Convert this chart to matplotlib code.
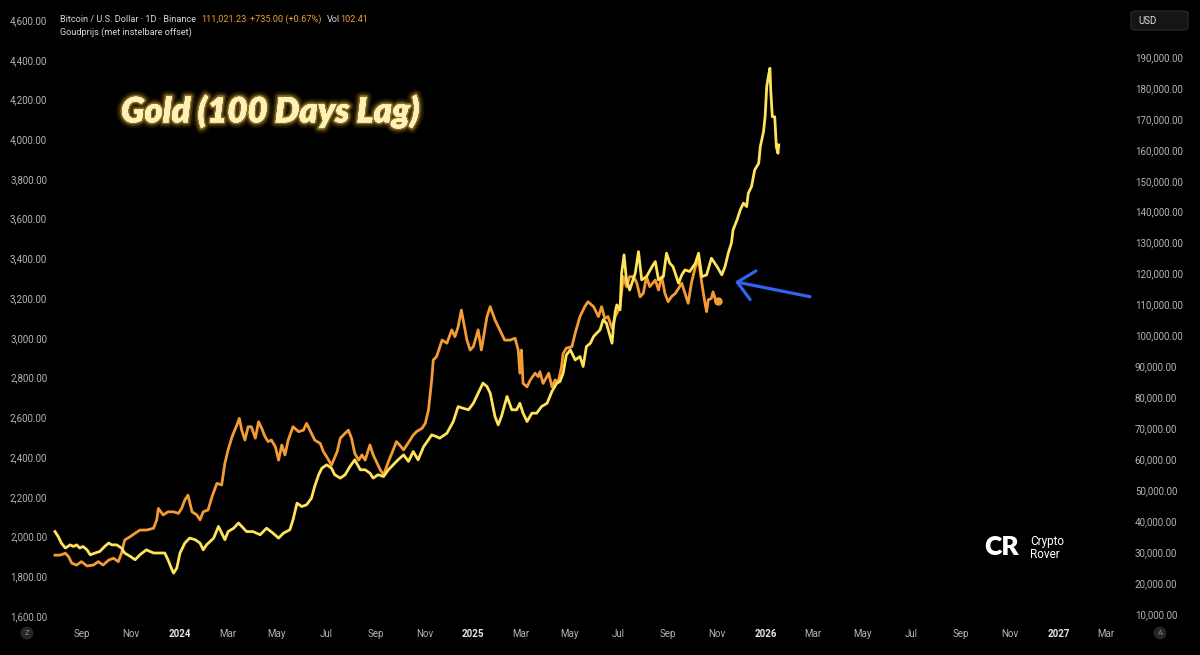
import pandas as pd
import matplotlib
matplotlib.use("Agg")
import matplotlib.pyplot as plt
import matplotlib.patheffects as pe
from matplotlib.patches import FancyBboxPatch
from matplotlib.ticker import FuncFormatter

# dates are stored as days counted from 2024-01-01
BASE = pd.Timestamp("2024-01-01")

# Bitcoin / USD (right scale)
btc_day = [-156, -150, -143, -139, -135, -129, -123, -116, -108, -102,
           -96, -89, -83, -77, -73, -69, -62, -56, -50, -42,
           -33, -29, -27, -21, -15, -8, -2, 2, 6, 10,
           15, 21, 25, 29, 35, 40, 46, 52, 56, 60,
           65, 71, 74, 77, 81, 85, 89, 94, 98, 102,
           106, 110, 114, 119, 123, 127, 131, 135, 141, 148,
           154, 158, 164, 168, 175, 179, 183, 189, 196, 200,
           206, 210, 214, 218, 223, 227, 231, 237, 241, 245,
           250, 254, 260, 266, 270, 274, 279, 283, 287, 291,
           295, 302, 306, 310, 314, 316, 320, 327, 333, 339,
           343, 347, 351, 358, 362, 366, 372, 376, 383, 387,
           393, 399, 405, 412, 418, 422, 424, 426, 428, 433,
           437, 443, 447, 449, 453, 460, 464, 468, 472, 476,
           478, 482, 489, 493, 499, 505, 509, 516, 522, 526,
           530, 534, 539, 543, 549, 553, 557, 561, 566, 570,
           574, 578, 582, 586, 593, 597, 601, 605, 609, 613,
           618, 622, 626, 630, 634, 638, 643, 647, 651, 655,
           657, 659, 663, 665, 667, 669, 671]
btc_price = [29000, 29000, 29600, 28500, 26400, 25800, 26900, 25500, 25800, 26900,
             25800, 27400, 28000, 26900, 29600, 33900, 35000, 36100, 37100, 37100,
             37700, 40400, 44100, 42000, 43000, 43000, 42500, 44100, 46800, 48400,
             43000, 42000, 40400, 43000, 43600, 47900, 52200, 51700, 58700, 63000,
             67300, 71100, 73200, 69400, 66200, 70500, 70500, 66800, 72100, 70000,
             67300, 65700, 66200, 64000, 59700, 64600, 61400, 66200, 70500, 68900,
             69400, 71600, 68400, 66200, 65100, 62400, 60800, 58100, 62400, 66800,
             68400, 69400, 66800, 61900, 59700, 61400, 59700, 64600, 61400, 59200,
             56500, 54900, 59200, 63000, 65700, 64600, 63000, 64600, 66200, 67800,
             68900, 70000, 71600, 75900, 85600, 92100, 93100, 98500, 97500, 101800,
             99600, 102800, 108200, 98500, 95300, 96400, 101800, 95300, 106100, 109300,
             105000, 101800, 98500, 98500, 99100, 95300, 87800, 95300, 84500, 83400,
             85600, 87800, 86700, 88300, 84500, 87800, 83400, 85600, 85100, 89900,
             94200, 95900, 96400, 100700, 106100, 109300, 110900, 109300, 106100, 109300,
             105500, 106100, 102300, 106100, 109300, 119000, 115800, 119000, 119000, 116900,
             112500, 113600, 119000, 115800, 117900, 114700, 119000, 113600, 110900, 112500,
             113600, 115200, 116900, 113600, 110400, 116900, 122200, 124400, 116900, 110400,
             107700, 111500, 112000, 114100, 112500, 110400, 111021]

# Gold price shifted 100 days forward (left scale)
gold_day = [-156, -152, -148, -143, -137, -133, -129, -125, -121, -116,
            -112, -106, -100, -94, -89, -85, -79, -73, -69, -62,
            -56, -50, -42, -33, -25, -19, -15, -10, -8, -4,
            0, 6, 12, 19, 25, 29, 33, 42, 48, 52,
            56, 60, 67, 73, 77, 83, 91, 100, 108, 116,
            123, 129, 137, 141, 146, 152, 158, 164, 168, 173,
            177, 183, 189, 193, 200, 206, 212, 218, 225, 231,
            237, 241, 247, 254, 260, 266, 272, 279, 285, 291,
            297, 304, 310, 314, 320, 324, 333, 341, 347, 353,
            360, 366, 372, 378, 383, 387, 393, 397, 401, 408,
            414, 420, 424, 428, 433, 439, 445, 451, 458, 464,
            470, 474, 478, 482, 487, 493, 499, 503, 507, 512,
            516, 520, 524, 528, 532, 539, 541, 543, 545, 549,
            551, 554, 557, 561, 568, 572, 576, 582, 589, 593,
            597, 603, 607, 611, 615, 622, 626, 630, 636, 643,
            647, 651, 657, 663, 670, 676, 680, 684, 688, 690,
            695, 699, 703, 707, 709, 713, 717, 722, 724, 728,
            730, 732, 734, 736, 737, 739, 742, 744, 746, 747]
gold_price = [2025, 2000, 1967, 1942, 1958, 1950, 1958, 1942, 1950, 1933,
              1908, 1917, 1925, 1950, 1967, 1958, 1958, 1942, 1917, 1900,
              1883, 1908, 1933, 1917, 1917, 1917, 1883, 1833, 1816, 1841,
              1917, 1967, 1992, 1984, 1967, 1933, 1958, 1992, 2051, 2017,
              1984, 2025, 2042, 2068, 2051, 2025, 2025, 2009, 2042, 2017,
              1992, 2017, 2034, 2084, 2168, 2151, 2160, 2193, 2252, 2311,
              2344, 2361, 2344, 2311, 2294, 2311, 2352, 2386, 2336, 2336,
              2319, 2294, 2311, 2302, 2336, 2361, 2386, 2411, 2378, 2428,
              2386, 2453, 2487, 2512, 2503, 2495, 2520, 2579, 2654, 2646,
              2638, 2671, 2722, 2772, 2755, 2722, 2604, 2562, 2604, 2705,
              2638, 2638, 2671, 2621, 2579, 2621, 2621, 2654, 2671, 2730,
              2772, 2780, 2822, 2914, 2940, 2889, 2906, 2856, 2956, 2973,
              3007, 3024, 3040, 3091, 3074, 2973, 3065, 3132, 3166, 3141,
              3326, 3418, 3292, 3241, 3326, 3434, 3292, 3308, 3359, 3384,
              3292, 3308, 3426, 3376, 3359, 3275, 3317, 3342, 3334, 3376,
              3426, 3308, 3317, 3401, 3359, 3317, 3359, 3426, 3478, 3543,
              3594, 3644, 3678, 3661, 3728, 3761, 3845, 3879, 3962, 4038,
              4113, 4264, 4315, 4357, 4248, 4113, 4113, 3962, 3929, 3971]

gold_ticks = list(range(1600, 4601, 200))
btc_ticks = list(range(10000, 190001, 10000))
month_ticks = pd.date_range("2023-09-01", "2027-03-01", freq="2MS")

ORANGE = "#f39c36"
YELLOW = "#ffe45a"
GREY = "#b4b4b4"
LIGHT = "#d8d8d8"
W, H = 1200.0, 655.0

plt.rcParams["font.family"] = ["Roboto", "DejaVu Sans"]


def fx(px):
    return px / W


def fy(py):
    return 1 - py / H


fig = plt.figure(figsize=(12, 6.55), dpi=100, facecolor="black")
ax = fig.add_axes([fx(52), 30 / H, (1125 - 52) / W, 625 / H])
ax2 = ax.twinx()
ax.set_zorder(ax2.get_zorder() + 1)
ax.patch.set_visible(False)
ax2.set_facecolor("black")

btc_dates = BASE + pd.to_timedelta(btc_day, unit="D")
gold_dates = BASE + pd.to_timedelta(gold_day, unit="D")

ax2.plot(btc_dates, btc_price, color=ORANGE, lw=2.0, solid_joinstyle="round")
ax2.plot(btc_dates[-1:], btc_price[-1:], "o", color=ORANGE, ms=5)
ax.plot(gold_dates, gold_price, color=YELLOW, lw=2.0, solid_joinstyle="round")

ax.set_xlim(BASE - pd.Timedelta(days=159.7), BASE + pd.Timedelta(days=1179))
ax.set_ylim(1554.7, 4700.6)
ax2.set_ylim(6422, 208422)

for a in (ax, ax2):
    for s in a.spines.values():
        s.set_visible(False)

money = FuncFormatter(lambda v, p: "{:,.2f}".format(v))
ax.set_yticks(gold_ticks)
ax.yaxis.set_major_formatter(money)
ax.tick_params(axis="y", length=0, pad=3.5, labelsize=7, labelcolor=GREY)
ax2.set_yticks(btc_ticks)
ax2.yaxis.set_major_formatter(money)
ax2.tick_params(axis="y", length=0, pad=7, labelsize=7, labelcolor=GREY)

ax.set_xticks(month_ticks)
ax.set_xticklabels([str(d.year) if d.month == 1 else d.strftime("%b")
                    for d in month_ticks])
ax.tick_params(axis="x", length=0, pad=3, labelsize=7, labelcolor=GREY)
for lab, d in zip(ax.get_xticklabels(), month_ticks):
    if d.month == 1:
        lab.set_fontweight("bold")
        lab.set_color("#e6e6e6")

# header legend, pieces placed one after the other
renderer = fig.canvas.get_renderer()
pieces = [("Bitcoin / U.S. Dollar · 1D · Binance", LIGHT, 5),
          ("111,021.23", ORANGE, 4), ("+735.00 (+0.67%)", ORANGE, 5),
          ("Vol", LIGHT, 0), ("102.41", ORANGE, 0)]
x = 60
for s, c, gap in pieces:
    t = fig.text(fx(x), fy(19.5), s, color=c, fontsize=6.6, va="center")
    x += t.get_window_extent(renderer).width + gap
fig.text(fx(60), fy(32.5), "Goudprijs (met instelbare offset)",
         color=LIGHT, fontsize=6.6, va="center")

# currency box
box = FancyBboxPatch((fx(1131), fy(30)), fx(57), 19 / H, transform=fig.transFigure,
                     boxstyle="round,pad=0,rounding_size=0.004",
                     facecolor="#151515", edgecolor="#2c2c2c", lw=0.8)
fig.add_artist(box)
fig.text(fx(1138), fy(20.5), "USD", color="#e0e0e0", fontsize=7, va="center")

# small round buttons at the bottom corners
for px, ch in ((27, "Z"), (1160, "A")):
    fig.text(fx(px), fy(633), ch, color="#8a8a8a", fontsize=5.5, ha="center",
             va="center", bbox=dict(boxstyle="circle,pad=0.45", fc="#262626", ec="none"))

# glowing title
glow = [pe.withStroke(linewidth=8, foreground=(1.0, 0.72, 0.1, 0.10)),
        pe.withStroke(linewidth=5, foreground=(1.0, 0.78, 0.2, 0.18)),
        pe.withStroke(linewidth=2.5, foreground=(1.0, 0.85, 0.4, 0.35)),
        pe.Normal()]
fig.text(fx(121), fy(111), "Gold (100 Days Lag)", color="#fff0b8", fontsize=25,
         fontweight="heavy", style="italic", family=["Lato", "DejaVu Sans"],
         va="center", ha="left", path_effects=glow)

# blue arrow
ax.annotate("", xy=(fx(735), fy(281.7)), xycoords="figure fraction",
            xytext=(fx(810), fy(296.7)), textcoords="figure fraction",
            arrowprops=dict(arrowstyle="->,head_length=1.15,head_width=1.05",
                            color="#3164ec", lw=2.3, shrinkA=0, shrinkB=0,
                            capstyle="round", joinstyle="round"))

# watermark
fig.text(fx(984), fy(547), "CR", color="white", fontsize=19, fontweight="heavy",
         family=["Lato", "DejaVu Sans"], va="center", ha="left")
fig.text(fx(1030), fy(541.5), "Crypto", color="white", fontsize=8.5, va="center")
fig.text(fx(1030), fy(555), "Rover", color="white", fontsize=8.5, va="center")

fig.savefig("out.png", dpi=100, facecolor="black")
